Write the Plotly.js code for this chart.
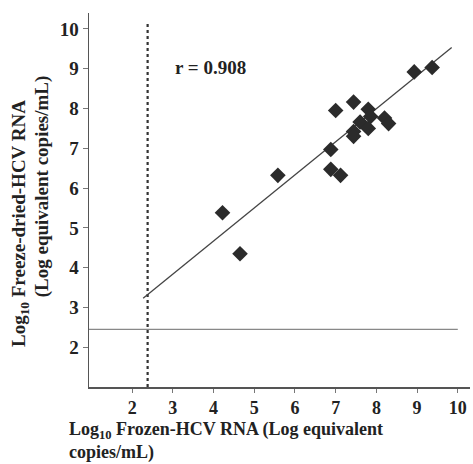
<!DOCTYPE html>
<html>
<head>
<meta charset="utf-8">
<script src="https://cdn.plot.ly/plotly-3.0.1.min.js"></script>
<style>html,body{margin:0;padding:0;background:#fff;}#chart{width:473px;height:464px;}</style>
</head>
<body>
<div id="chart"></div>
<script>
// Data
const frozen = [4.22, 4.65, 5.58, 6.88, 6.88, 7.12, 7.0, 7.44, 7.44, 7.44, 7.6, 7.8, 7.86, 7.8, 8.2, 8.3, 8.93, 9.37];
const freezeDried = [5.38, 4.35, 6.32, 6.97, 6.47, 6.32, 7.95, 8.16, 7.42, 7.3, 7.66, 7.98, 7.8, 7.5, 7.76, 7.62, 8.92, 9.03];
const fitX = [2.27, 9.85];
const fitY = [3.23, 9.53];
const cutoffX = 2.38;
const cutoffY = 2.45;
const xTicks = [2, 3, 4, 5, 6, 7, 8, 9, 10];
const yTicks = [2, 3, 4, 5, 6, 7, 8, 9, 10];
const rText = "r = 0.908";

const font = {family: "Liberation Serif, Times New Roman, serif", color: "#222"};
const bold = (s) => Object.assign({size: s, weight: "bold"}, font);

const traces = [
  {x: [cutoffX, cutoffX], y: [1.0, 10.2], mode: "lines", line: {color: "#333", width: 2.2, dash: "dot"}, hoverinfo: "skip", showlegend: false},
  {x: [0.94, 10.0], y: [cutoffY, cutoffY], mode: "lines", line: {color: "#888", width: 1.2}, hoverinfo: "skip", showlegend: false},
  {x: fitX, y: fitY, mode: "lines", line: {color: "#444", width: 1.3}, hoverinfo: "skip", showlegend: false},
  {x: frozen, y: freezeDried, mode: "markers", marker: {symbol: "diamond", size: 12, color: "#2b2b2b"}, showlegend: false}
];

const layout = {
  width: 473, height: 464,
  margin: {l: 89, r: 3, t: 13, b: 77},
  paper_bgcolor: "#fff", plot_bgcolor: "#fff",
  showlegend: false,
  font: Object.assign({size: 16}, font),
  xaxis: {
    range: [0.94, 10.3], tickvals: xTicks, ticktext: xTicks.map(String),
    showgrid: false, zeroline: false, showline: true, linecolor: "#555", linewidth: 1.5,
    ticks: "outside", ticklen: 4, tickcolor: "#777", tickwidth: 1,
    tickfont: bold(18)
  },
  yaxis: {
    range: [1.0, 10.4], tickvals: yTicks, ticktext: yTicks.map(String),
    showgrid: false, zeroline: false, showline: true, linecolor: "#555", linewidth: 1.5,
    ticks: "outside", ticklen: 5, tickcolor: "#777", tickwidth: 1,
    tickfont: bold(19)
  },
  annotations: [
    {x: 3.0, y: 9.03, xref: "x", yref: "y", xanchor: "left", yanchor: "middle", showarrow: false,
     text: rText, font: bold(19)},
    {xref: "paper", yref: "paper", x: -0.057, y: -0.144, xanchor: "left", yanchor: "middle", showarrow: false, align: "left",
     text: "Log<sub>10</sub> Frozen-HCV RNA (Log equivalent<br>copies/mL)", font: bold(18)},
    {xref: "paper", yref: "paper", x: -0.181, y: 0.436, xanchor: "center", yanchor: "middle", textangle: -90, showarrow: false,
     text: "Log<sub>10</sub> Freeze-dried-HCV RNA", font: bold(19)},
    {xref: "paper", yref: "paper", x: -0.123, y: 0.537, xanchor: "center", yanchor: "middle", textangle: -90, showarrow: false,
     text: "(Log equivalent copies/mL)", font: bold(19)}
  ]
};

Plotly.newPlot("chart", traces, layout, {displayModeBar: false, staticPlot: true});
</script>
</body>
</html>
